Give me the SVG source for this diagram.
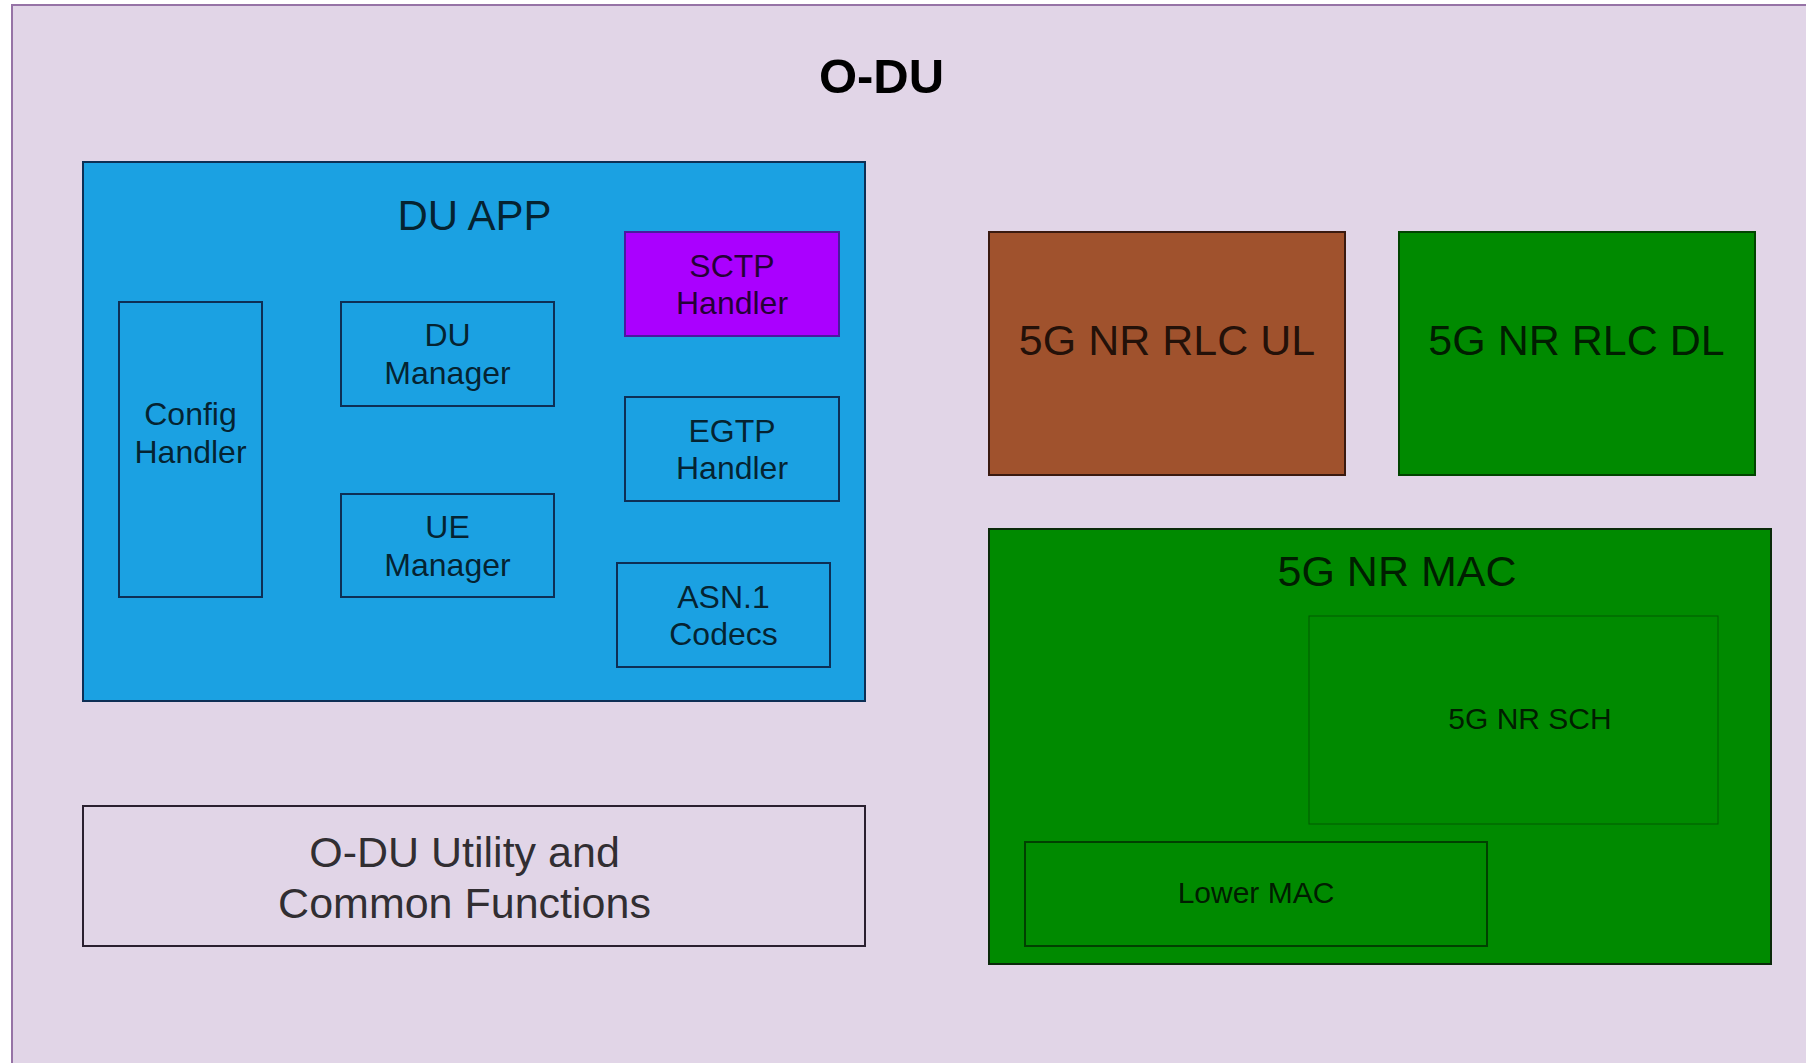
<svg xmlns="http://www.w3.org/2000/svg" width="1806" height="1063" viewBox="0 0 1806 1063">
<style>
  text { font-family: "Liberation Sans", Arial, sans-serif; text-anchor: middle; }
  .t { fill: #000; fill-opacity: 0.8; }
  .s32 { font-size: 32px; }
  .s43 { font-size: 43px; }
  .s30 { font-size: 30px; }
  .box { stroke-width: 2; }
  .blue { fill: #1ba1e2; stroke: #0d2f55; }
</style>
<rect x="0" y="0" width="1806" height="1063" fill="#ffffff"/>
<g id="odu">
  <rect x="12" y="5" width="1810" height="1080" fill="#e1d5e7" stroke="#9673a6" stroke-width="2"/>
  <text x="881.5" y="93" font-size="49" font-weight="bold" fill="#000">O-DU</text>
</g>
<g id="du-app">
  <rect class="box blue" x="83" y="162" width="782" height="539"/>
  <text class="t" x="474.5" y="230" font-size="42">DU APP</text>
</g>
<g id="config-handler">
  <rect class="box blue" x="119" y="302" width="143" height="295"/>
  <text class="t s32" x="190.5" y="425">Config</text>
  <text class="t s32" x="190.5" y="463">Handler</text>
</g>
<g id="du-manager">
  <rect class="box blue" x="341" y="302" width="213" height="104"/>
  <text class="t s32" x="447.5" y="345.5">DU</text>
  <text class="t s32" x="447.5" y="383.5">Manager</text>
</g>
<g id="ue-manager">
  <rect class="box blue" x="341" y="494" width="213" height="103"/>
  <text class="t s32" x="447.5" y="537.5">UE</text>
  <text class="t s32" x="447.5" y="575.5">Manager</text>
</g>
<g id="sctp-handler">
  <rect class="box" x="625" y="232" width="214" height="104" fill="#aa00ff" stroke="#4a1aa0"/>
  <text class="t s32" x="732" y="277" fill-opacity="0.6">SCTP</text>
  <text class="t s32" x="732" y="314" fill-opacity="0.6">Handler</text>
</g>
<g id="egtp-handler">
  <rect class="box blue" x="625" y="397" width="214" height="104"/>
  <text class="t s32" x="732" y="442">EGTP</text>
  <text class="t s32" x="732" y="479">Handler</text>
</g>
<g id="asn1-codecs">
  <rect class="box blue" x="617" y="563" width="213" height="104"/>
  <text class="t s32" x="723.5" y="608">ASN.1</text>
  <text class="t s32" x="723.5" y="645">Codecs</text>
</g>
<g id="utility">
  <rect class="box" x="83" y="806" width="782" height="140" fill="none" stroke="#2a2030"/>
  <text class="t s43" x="464.5" y="867" fill-opacity="0.95">O-DU Utility and</text>
  <text class="t s43" x="464.5" y="918" fill-opacity="0.95">Common Functions</text>
</g>
<g id="rlc-ul">
  <rect class="box" x="989" y="232" width="356" height="243" fill="#a0522d" stroke="#3a1a10"/>
  <text class="t s43" x="1167" y="355" fill-opacity="0.9">5G NR RLC UL</text>
</g>
<g id="rlc-dl">
  <rect class="box" x="1399" y="232" width="356" height="243" fill="#008a00" stroke="#004400"/>
  <text class="t s43" x="1576.5" y="355" fill-opacity="0.8">5G NR RLC DL</text>
</g>
<g id="mac">
  <rect class="box" x="989" y="529" width="782" height="435" fill="#008a00" stroke="#0a2a0a"/>
  <text class="t s43" x="1397" y="586" fill-opacity="0.8">5G NR MAC</text>
</g>
<g id="sch">
  <rect x="1309" y="616" width="409" height="208" fill="none" stroke="#005a00" stroke-width="1"/>
  <text class="t s30" x="1530" y="729" fill-opacity="0.75">5G NR SCH</text>
</g>
<g id="lower-mac">
  <rect class="box" x="1025" y="842" width="462" height="104" fill="none" stroke="#004000"/>
  <text class="t s30" x="1256" y="903" fill-opacity="0.75">Lower MAC</text>
</g>
<g id="connectors"></g>
</svg>
